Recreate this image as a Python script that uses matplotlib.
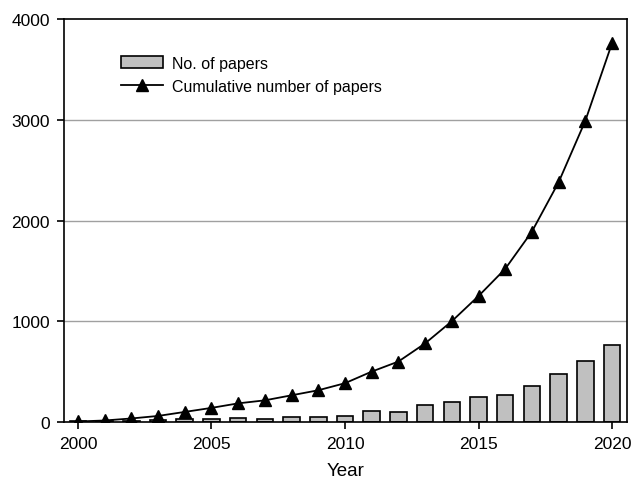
import matplotlib

matplotlib.use("Agg")
import matplotlib.pyplot as plt

plt.rcParams["font.family"] = ["Liberation Sans", "DejaVu Sans"]

years = list(range(2000, 2021))
papers = [5, 8, 12, 15, 34, 34, 38, 25, 45, 45, 60, 106, 100, 166, 203, 248, 272, 361, 476, 602, 764]
cumulative = [5, 15, 35, 60, 100, 140, 185, 215, 265, 315, 385, 500, 600, 780, 1000,
              1250, 1520, 1890, 2380, 2990, 3760]
xticks = [2000, 2005, 2010, 2015, 2020]
yticks = [0, 1000, 2000, 3000, 4000]

fig = plt.figure(figsize=(6.44, 4.81), dpi=100)
ax = fig.add_axes([64 / 644, 1 - 423 / 481, 563 / 644, 403 / 481])

bars = ax.bar(years, papers, width=0.62, color="#c0c0c0", edgecolor="black", linewidth=1.2,
              label="No. of papers", zorder=2)
line, = ax.plot(years, cumulative, "k-", marker="^", markersize=9, lw=1.3,
                label="Cumulative number of papers", zorder=3)

ax.set_xlim(1999.48, 2020.56)
ax.set_ylim(0, 4000)
ax.set_xticks(xticks)
ax.set_yticks(yticks)
for y in yticks[1:-1]:
    ax.axhline(y, color="#a0a0a0", lw=1, zorder=1)

for s in ax.spines.values():
    s.set_linewidth(1.2)
ax.tick_params(direction="out", length=5, width=1.2, labelsize=12.5, pad=5)
ax.set_xlabel("Year", fontsize=13.5, labelpad=8)

ax.legend([bars, line], ["No. of papers", "Cumulative number of papers"],
          loc="upper left", bbox_to_anchor=(0.09, 0.925), frameon=False, fontsize=11.5,
          handlelength=2.6, handletextpad=0.6, labelspacing=0.5, borderaxespad=0)

fig.savefig("out.png", dpi=100)
